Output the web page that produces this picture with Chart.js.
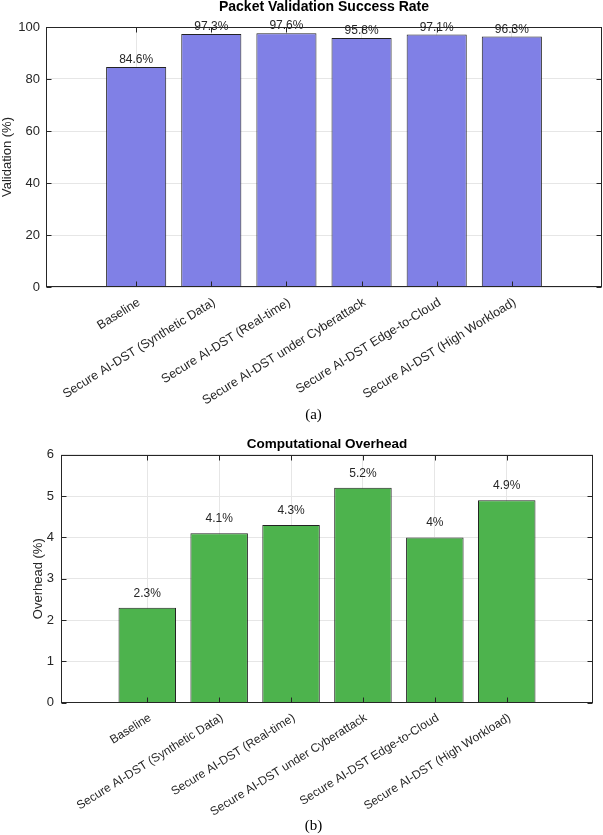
<!DOCTYPE html>
<html lang="en">
<head>
  <meta charset="UTF-8" />
  <title>Packet Validation Success Rate / Computational Overhead</title>
  <script src="https://cdn.jsdelivr.net/npm/chart.js"></script>
  <style>
    html, body { margin: 0; padding: 0; background: #fff; }
    body { width: 603px; height: 835px; position: relative; overflow: hidden; }
    canvas { position: absolute; left: 0; }
    #chartA { top: 0; }
    #chartB { top: 420px; }
    .caption {
      position: absolute; left: 12px; width: 603px; text-align: center;
      font-family: 'Liberation Serif', 'Times New Roman', serif; font-size: 15px; line-height: 15px; color: #000;
    }
  </style>
</head>
<body>
  <canvas id="chartA" width="603" height="410"></canvas>
  <canvas id="chartB" width="603" height="415"></canvas>
  <div class="caption" style="top: 407px;">(a)</div>
  <div class="caption" style="top: 818px;">(b)</div>

  <script>
    const categories = [
      'Baseline',
      'Secure AI-DST (Synthetic Data)',
      'Secure AI-DST (Real-time)',
      'Secure AI-DST under Cyberattack',
      'Secure AI-DST Edge-to-Cloud',
      'Secure AI-DST (High Workload)'
    ];
    const validationRate = [84.6, 97.3, 97.6, 95.8, 97.1, 96.3];
    const overhead = [2.3, 4.1, 4.3, 5.2, 4, 4.9];

    Chart.defaults.font.family = "'Liberation Sans', Arial, sans-serif";
    Chart.defaults.color = '#262626';

    // box around the plot with inward ticks, like the original figure
    const frame = {
      id: 'frame',
      afterDatasetsDraw(chart) {
        const { ctx, chartArea: a, scales: { x, y } } = chart;
        const l = Math.round(a.left) + 0.5, r = Math.round(a.right) - 0.5;
        const t = Math.round(a.top) + 0.5, b = Math.round(a.bottom) - 0.5;
        ctx.save();
        ctx.strokeStyle = '#262626';
        ctx.lineWidth = 1;
        ctx.beginPath();
        x.ticks.forEach(tk => {
          const px = Math.round(x.getPixelForValue(tk.value)) + 0.5;
          ctx.moveTo(px, b); ctx.lineTo(px, b - 5);
          ctx.moveTo(px, t); ctx.lineTo(px, t + 5);
        });
        y.ticks.forEach(tk => {
          const py = Math.round(y.getPixelForValue(tk.value)) + 0.5;
          ctx.moveTo(l, py); ctx.lineTo(l + 5, py);
          ctx.moveTo(r, py); ctx.lineTo(r - 5, py);
        });
        ctx.stroke();
        ctx.strokeRect(l, t, r - l, b - t);
        ctx.restore();
      }
    };

    // value text above each bar
    const barLabels = {
      id: 'barLabels',
      afterDraw(chart, args, opts) {
        const { ctx } = chart;
        const ds = chart.data.datasets[0];
        ctx.save();
        ctx.font = opts.font;
        ctx.fillStyle = '#262626';
        ctx.textAlign = 'center';
        ctx.textBaseline = 'alphabetic';
        chart.getDatasetMeta(0).data.forEach((bar, i) => {
          ctx.fillText(ds.data[i].y + '%', bar.x, bar.y - opts.gap);
        });
        ctx.restore();
      }
    };

    function makeChart(id, values, opt) {
      return new Chart(document.getElementById(id), {
        type: 'bar',
        data: {
          datasets: [{
            data: values.map((v, i) => ({ x: i + 1, y: v })),
            backgroundColor: opt.color,
            borderColor: '#222',
            borderWidth: 1,
            barPercentage: 0.8,
            categoryPercentage: 1
          }]
        },
        options: {
          responsive: false,
          animation: false,
          layout: { padding: { left: 0, right: opt.padRight, top: 0, bottom: 0 } },
          scales: {
            x: {
              type: 'linear',
              bounds: 'data',
              offset: false,
              min: -0.2,
              max: 7.2,
              afterBuildTicks: s => { s.ticks = categories.map((c, i) => ({ value: i + 1 })); },
              afterFit: s => { s.height = opt.xHeight; },
              grid: { color: '#e6e6e6', drawTicks: false, offset: false },
              border: { display: false },
              ticks: {
                autoSkip: false,
                minRotation: 32,
                maxRotation: 32,
                padding: 8,
                labelOffset: 3,
                font: { size: opt.xFont },
                callback: v => categories[v - 1] || ''
              }
            },
            y: {
              min: 0,
              max: opt.yMax,
              afterFit: s => { s.width = opt.yWidth; },
              grid: { color: '#e6e6e6', drawTicks: false },
              border: { display: false },
              ticks: { stepSize: opt.yStep, padding: opt.yPad, font: { size: 13 } },
              title: { display: true, text: opt.yTitle, font: { size: 13 }, padding: { top: opt.yTitleOff, bottom: 0 } }
            }
          },
          plugins: {
            legend: { display: false },
            tooltip: { enabled: false },
            title: {
              display: true,
              fullSize: false,
              text: opt.title,
              color: '#000',
              font: { size: opt.titleSize, weight: 'bold', lineHeight: 1 },
              padding: opt.titlePad
            },
            barLabels: { font: opt.labelFont, gap: opt.labelGap }
          }
        },
        plugins: [frame, barLabels]
      });
    }

    makeChart('chartA', validationRate, {
      color: '#8080e6',
      title: 'Packet Validation Success Rate',
      titleSize: 14,
      titlePad: { top: 0, bottom: 13 },
      yTitle: 'Validation (%)', yTitleOff: 0,
      yMax: 100, yStep: 20, yWidth: 46, yPad: 6,
      xHeight: 123, xFont: 12.5,
      padRight: 1,
      labelFont: "12px 'Liberation Sans', Arial, sans-serif",
      labelGap: 4
    });

    makeChart('chartB', overhead, {
      color: '#4db34d',
      title: 'Computational Overhead',
      titleSize: 13.5,
      titlePad: { top: 17.25, bottom: 4 },
      yTitle: 'Overhead (%)', yTitleOff: 30.7,
      yMax: 6, yStep: 1, yWidth: 61, yPad: 7,
      xHeight: 132.3, xFont: 12,
      padRight: 10,
      labelFont: "12px 'Liberation Sans', Arial, sans-serif",
      labelGap: 11
    });
  </script>
</body>
</html>
